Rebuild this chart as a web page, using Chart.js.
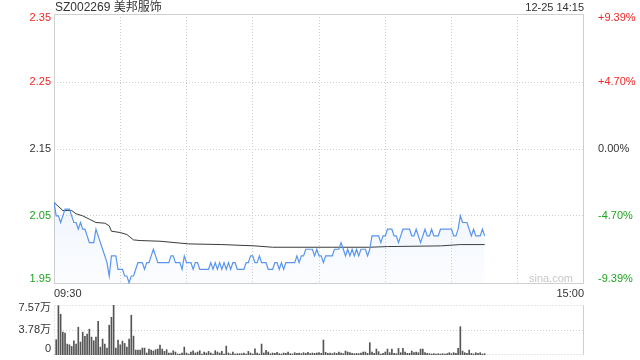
<!DOCTYPE html>
<html>
<head>
<meta charset="utf-8">
<script src="https://cdn.jsdelivr.net/npm/chart.js@4.4.1/dist/chart.umd.min.js"></script>
<style>
  body { margin: 0; width: 640px; height: 360px; background: #fff; position: relative; overflow: hidden;
    font-family: "Liberation Sans", Arial, "Noto Sans CJK SC", sans-serif; color: #333; }
  canvas { position: absolute; left: 0; }
  #priceChart { top: 0; }
  #volChart { top: 300px; }
  .lbl { position: absolute; font-size: 11px; line-height: 12px; white-space: nowrap; }
</style>
</head>
<body>
<canvas id="priceChart" width="640" height="290"></canvas>
<canvas id="volChart" width="640" height="60"></canvas>
<div class="lbl" id="title" style="left:55px;top:1px;font-size:12px;"></div>
<div class="lbl" id="stamp" style="right:56px;top:1px;"></div>
<div class="lbl" id="timeStart" style="left:54px;top:287px;"></div>
<div class="lbl" id="timeEnd" style="right:56px;top:287px;"></div>
<div class="lbl" id="mark" style="right:67px;top:272px;color:#c8c8c8;"></div>

<script>
const stockTitle = "SZ002269 美邦服饰"
const stampText = "12-25 14:15"
const timeLabels = ["09:30", "15:00"]
const watermark = "sina.com"

// minutes of the trading day, 09:30 -> 15:00
const sessionMinutes = 240
const timeGrid = [0, 30, 60, 90, 120, 150, 180, 210, 240]

const prevClose = 2.15
const priceMin = 1.948
const priceMax = 2.352
// label spots sit a little inside the frame at top and bottom
const priceTickVals = [1.9555, 2.05, 2.15, 2.25, 2.346]
const priceTickLabels = ["1.95", "2.05", "2.15", "2.25", "2.35"]
const pctTickLabels = ["-9.39%", "-4.70%", "0.00%", "+4.70%", "+9.39%"]
const tickColors = ["#1fa51f", "#1fa51f", "#333333", "#f02828", "#f02828"]

// one price per minute, 09:30 .. 14:15
const price = [
  2.07, 2.05, 2.05, 2.04, 2.05, 2.06, 2.06, 2.06, 2.05, 2.04,
  2.04, 2.03, 2.04, 2.03, 2.03, 2.02, 2.01, 2.01, 2.01, 2.03,
  2.02, 2.01, 2.00, 1.99, 1.98, 1.96, 1.99, 1.99, 1.99, 1.97,
  1.97, 1.97, 1.96, 1.96, 1.95, 1.96, 1.96, 1.97, 1.98, 1.98,
  1.98, 1.97, 1.98, 1.98, 1.99, 2.00, 1.99, 1.98, 1.98, 1.98,
  1.98, 1.98, 1.98, 1.99, 1.99, 1.98, 1.98, 1.98, 1.97, 1.99,
  1.98, 1.98, 1.98, 1.97, 1.98, 1.98, 1.97, 1.97, 1.97, 1.97,
  1.97, 1.98, 1.97, 1.98, 1.97, 1.98, 1.97, 1.98, 1.97, 1.98,
  1.97, 1.98, 1.98, 1.97, 1.97, 1.97, 1.97, 1.98, 1.98, 1.99,
  1.99, 1.98, 1.98, 1.99, 1.98, 1.98, 1.98, 1.97, 1.97, 1.97,
  1.98, 1.98, 1.97, 1.98, 1.97, 1.98, 1.98, 1.98, 1.98, 1.98,
  1.99, 1.98, 1.99, 1.99, 2.00, 2.00, 2.00, 2.00, 1.99, 2.00,
  1.99, 1.99, 1.98, 1.99, 1.99, 1.99, 1.99, 2.00, 2.00, 2.00,
  2.01, 2.00, 1.99, 2.00, 1.99, 2.00, 1.99, 2.00, 1.99, 2.00,
  2.00, 2.00, 1.99, 2.00, 2.02, 2.02, 2.02, 2.02, 2.01, 2.02,
  2.02, 2.03, 2.03, 2.03, 2.02, 2.02, 2.01, 2.02, 2.03, 2.03,
  2.03, 2.03, 2.02, 2.02, 2.03, 2.02, 2.01, 2.02, 2.03, 2.02,
  2.02, 2.03, 2.02, 2.02, 2.02, 2.03, 2.03, 2.03, 2.03, 2.03,
  2.03, 2.02, 2.02, 2.03, 2.05, 2.04, 2.04, 2.04, 2.03, 2.02,
  2.03, 2.02, 2.02, 2.02, 2.03, 2.02,
]

// average price line, read at a few minutes
const avgMinute = [0, 4, 8, 10, 13, 16, 19, 23, 25, 26, 30, 33, 36, 39, 48, 61, 76, 91, 99, 126, 143, 151, 175, 184, 195]
const avgPrice = [2.07, 2.058, 2.058, 2.053, 2.05, 2.045, 2.04, 2.039, 2.035, 2.027, 2.025, 2.022, 2.014, 2.013,
  2.012, 2.008, 2.007, 2.005, 2.003, 2.003, 2.003, 2.004, 2.005, 2.007, 2.007]

// volume per minute, in 万
const volume = [
  0, 2.31, 7.47, 6.17, 3.46, 3.31, 1.65, 1.55, 1.30, 2.16,
  1.65, 4.21, 1.96, 3.46, 2.81, 3.16, 3.91, 2.71, 2.16, 2.71,
  5.11, 1.20, 2.41, 1.65, 1.05, 4.51, 5.71, 7.57, 1.05, 2.26,
  1.55, 2.11, 1.75, 1.20, 2.41, 6.02, 2.86, 0.75, 0.75, 0.75,
  1.05, 1.05, 0.30, 0.90, 0.75, 0.60, 0.80, 0.90, 1.50, 0.90,
  0.55, 0.80, 0.30, 0.30, 0.65, 0.45, 0.15, 0.15, 0.30, 1.20,
  0.30, 0.15, 0.45, 0.65, 0.30, 0.45, 0.65, 0.15, 0.45, 0.30,
  0.55, 0.30, 0.15, 0.65, 0.45, 0.30, 0.55, 0.15, 1.35, 0.30,
  0.15, 0.45, 0.15, 0.20, 0.20, 0.20, 0.30, 0.15, 0.55, 0.30,
  0.15, 0.95, 0.30, 0.15, 1.65, 0.30, 0.70, 0.45, 0.20, 0.30,
  0.25, 0.40, 0.20, 0.15, 0.30, 0.25, 0.45, 0.20, 0.15, 0.35,
  0.25, 0.30, 0.20, 0.35, 0.25, 0.40, 0.20, 0.30, 0.25, 0.30,
  0.35, 0.25, 2.27, 0.40, 0.25, 0.30, 0.20, 0.35, 0.25, 0.45,
  0.30, 0.20, 0.60, 0.45, 0.35, 0.25, 0.20, 0.25, 0.20, 0.30,
  0.45, 0.45, 0.25, 1.87, 0.45, 0.25, 0.90, 0.50, 0.15, 0.25,
  0.45, 0.90, 0.35, 0.90, 0.25, 0.20, 1.00, 0.35, 1.00, 0.45,
  0.25, 0.25, 0.60, 0.35, 0.45, 0.35, 0.90, 0.90, 0.35, 0.25,
  0.20, 0.15, 0.20, 0.15, 0.20, 0.15, 0.20, 0.15, 0.20, 0.35,
  0.20, 0.35, 0.25, 1.00, 4.29, 0.60, 0.35, 0.25, 0.75, 0.25,
  0.15, 0.35, 0.25, 0.35, 0.15, 0.20,
]
const volMax = 7.57
const volTickVals = [0.91, 3.785, 7.12]
const volTickLabels = ["0", "3.78万", "7.57万"]

document.getElementById("title").textContent = stockTitle
document.getElementById("stamp").textContent = stampText
document.getElementById("timeStart").textContent = timeLabels[0]
document.getElementById("timeEnd").textContent = timeLabels[1]
document.getElementById("mark").textContent = watermark

const tickFont = { family: '"Liberation Sans", Arial, "Noto Sans CJK SC", sans-serif', size: 11 }
const gridGray = "#cfcfcf"
const clear = "rgba(0,0,0,0)"

// box round the plot, some sides dotted
const framePlugin = {
  id: "frame",
  beforeDatasetsDraw(chart, args, opts) {
    const { ctx, chartArea: a } = chart
    const l = Math.round(a.left) + 0.5
    const r = Math.round(a.right) - 0.5
    const t = Math.round(a.top) + 0.5
    const b = Math.round(a.bottom) - 0.5
    const sides = { top: [l, t, r, t], bottom: [l, b, r, b], left: [l, t, l, b], right: [r, t, r, b] }
    ctx.save()
    ctx.strokeStyle = opts.color
    ctx.lineWidth = 1
    Object.keys(sides).forEach(name => {
      const [x1, y1, x2, y2] = sides[name]
      ctx.setLineDash(opts.dotted.includes(name) ? [1, 2] : [])
      ctx.beginPath()
      ctx.moveTo(x1, y1)
      ctx.lineTo(x2, y2)
      ctx.stroke()
    })
    ctx.restore()
  },
}

const fixedTicks = vals => scale => {
  scale.ticks = vals.map(v => ({ value: v }))
}

// fixed width, and no extra room for labels that overhang the ends
const sideFit = w => s => {
  s.width = w
  s.paddingTop = 0
  s.paddingBottom = 0
}

const timeAxis = showGrid => ({
  type: "linear",
  min: 0,
  max: sessionMinutes,
  offset: false,
  afterBuildTicks: fixedTicks(timeGrid),
  afterFit: s => {
    s.height = 0
    s.paddingLeft = 0
    s.paddingRight = 0
  },
  ticks: { display: false },
  border: { display: false, dash: [1, 2] },
  grid: {
    offset: false,
    drawTicks: false,
    color: c => (!showGrid || c.index === 0 || c.index === timeGrid.length - 1 ? clear : gridGray),
  },
})

new Chart(document.getElementById("priceChart"), {
  type: "line",
  data: {
    datasets: [
      {
        data: price.map((p, i) => ({ x: i, y: p })),
        borderColor: "#5a95f0",
        borderWidth: 1.2,
        pointRadius: 0,
        tension: 0,
        fill: "start",
        backgroundColor: c => {
          const a = c.chart.chartArea
          if (!a) return "rgba(90,149,240,0.05)"
          const g = c.chart.ctx.createLinearGradient(0, a.top + 180, 0, a.bottom)
          g.addColorStop(0, "rgba(90,149,240,0.10)")
          g.addColorStop(1, "rgba(90,149,240,0.02)")
          return g
        },
      },
      {
        data: avgMinute.map((m, i) => ({ x: m, y: avgPrice[i] })),
        borderColor: "#3a3a3a",
        borderWidth: 1,
        pointRadius: 0,
        tension: 0,
        fill: false,
      },
    ],
  },
  options: {
    responsive: false,
    animation: false,
    events: [],
    layout: { padding: { top: 14, bottom: 6, left: 0, right: 0 } },
    plugins: {
      legend: { display: false },
      tooltip: { enabled: false },
      frame: { color: gridGray, dotted: [] },
    },
    scales: {
      x: timeAxis(true),
      y: {
        position: "left",
        min: priceMin,
        max: priceMax,
        afterBuildTicks: fixedTicks(priceTickVals),
        afterFit: sideFit(54),
        ticks: {
          autoSkip: false,
          padding: 3,
          font: tickFont,
          color: c => tickColors[c.index],
          callback: (v, i) => priceTickLabels[i],
        },
        border: { display: false, dash: [1, 2] },
        grid: {
          drawTicks: false,
          color: c => (c.index === 0 || c.index === priceTickVals.length - 1 ? clear : gridGray),
        },
      },
      pct: {
        position: "right",
        min: priceMin,
        max: priceMax,
        afterBuildTicks: fixedTicks(priceTickVals),
        afterFit: sideFit(56),
        ticks: {
          autoSkip: false,
          padding: 6,
          font: tickFont,
          color: c => tickColors[c.index],
          callback: (v, i) => pctTickLabels[i],
        },
        border: { display: false },
        grid: { display: false },
      },
    },
  },
  plugins: [framePlugin],
})

new Chart(document.getElementById("volChart"), {
  type: "bar",
  data: {
    datasets: [
      {
        data: volume.map((v, i) => ({ x: i, y: v })),
        backgroundColor: "#555555",
        barThickness: 1,
      },
    ],
  },
  options: {
    responsive: false,
    animation: false,
    events: [],
    layout: { padding: { top: 5, bottom: 5, left: 0, right: 56 } },
    plugins: {
      legend: { display: false },
      tooltip: { enabled: false },
      frame: { color: gridGray, dotted: ["top", "bottom", "left"] },
    },
    scales: {
      x: timeAxis(false),
      y: {
        position: "left",
        min: 0,
        max: volMax,
        afterBuildTicks: fixedTicks(volTickVals),
        afterFit: sideFit(54),
        ticks: {
          autoSkip: false,
          padding: 3,
          font: tickFont,
          color: "#333333",
          callback: (v, i) => volTickLabels[i],
        },
        border: { display: false, dash: [1, 2] },
        grid: {
          drawTicks: false,
          color: c => (c.index === 1 ? gridGray : clear),
        },
      },
    },
  },
  plugins: [framePlugin],
})
</script>
</body>
</html>
